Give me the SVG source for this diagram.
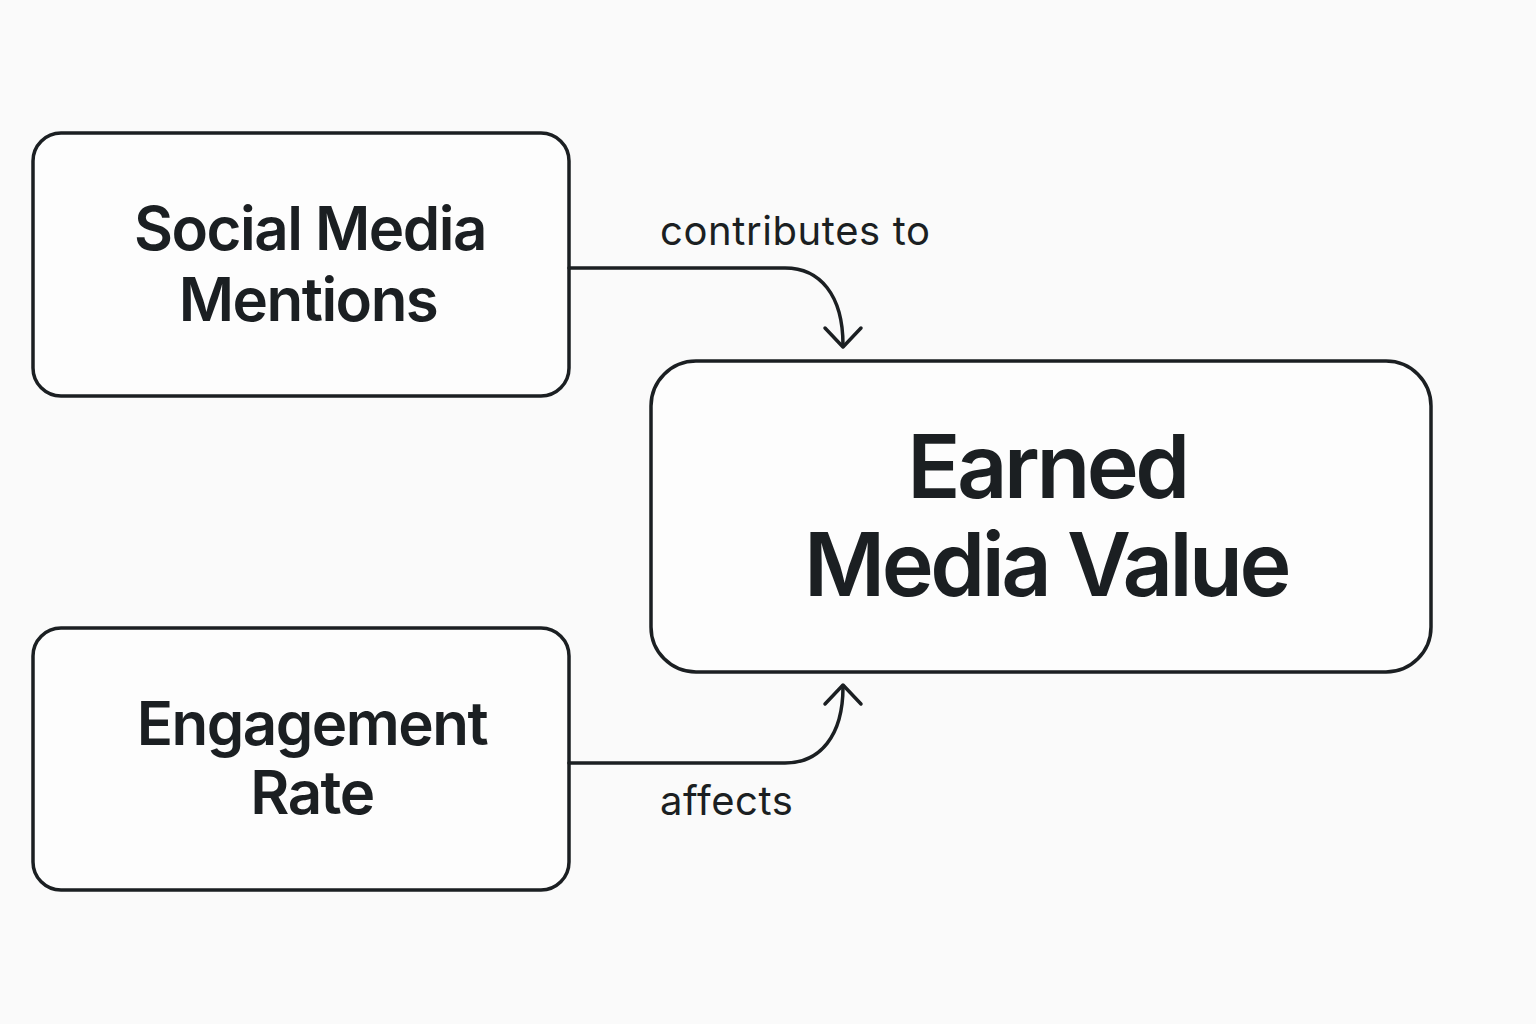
<svg xmlns="http://www.w3.org/2000/svg" width="1536" height="1024" viewBox="0 0 1536 1024">
<defs>
<style>
.box{fill:#fdfdfd;stroke:#1b1f22;stroke-width:3.5}
.t{font-family:Inter,"Liberation Sans",sans-serif;font-weight:600;fill:#1b1f22;text-anchor:middle;letter-spacing:-1.5px}
.big{letter-spacing:-3.5px}
.lbl{font-family:Inter,"Liberation Sans",sans-serif;font-weight:400;fill:#1b1f22;font-size:40px;letter-spacing:0.6px}
.c{fill:none;stroke:#1b1f22;stroke-width:3.5;stroke-linecap:round;stroke-linejoin:round}
</style>
</defs>
<rect width="1536" height="1024" fill="#fafafa"/>
<g id="social"><rect class="box" x="33" y="133" width="536" height="263" rx="28"/>
<text class="t" font-size="60" x="310" y="250">Social Media</text>
<text class="t" font-size="60" x="308" y="321">Mentions</text></g>
<g id="engagement"><rect class="box" x="33" y="628" width="536" height="262" rx="28"/>
<text class="t" font-size="60" x="312" y="745">Engagement</text>
<text class="t" font-size="60" x="312" y="814">Rate</text></g>
<g id="emv"><rect class="box" x="651" y="361" width="780" height="311" rx="45"/>
<text class="t big" font-size="88" x="1047" y="498">Earned</text>
<text class="t big" font-size="88" x="1046" y="596">Media Value</text></g>
<g id="connectors">
<path class="c" d="M569 268 H785 C820 268 843 295 843 345"/>
<path class="c" d="M825 328 L843 347 L861 328"/>
<path class="c" d="M569 763 H785 C820 763 843 736 843 687"/>
<path class="c" d="M825 704 L843 685 L861 704"/>
<text class="lbl" x="660" y="245">contributes to</text>
<text class="lbl" x="660" y="815">affects</text>
</g>
</svg>
